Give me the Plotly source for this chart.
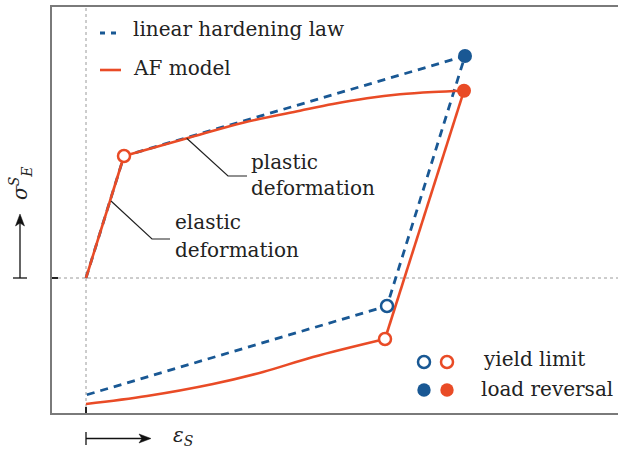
import plotly.graph_objects as go

# ---------------- data (strain, stress in arbitrary units) ----------------
# linear hardening law path: origin -> yield -> load reversal -> reverse yield -> end
lin_x = [0.0, 0.38, 3.79, 3.01, 0.0]
lin_y = [0.0, 1.22, 2.22, -0.28, -1.17]

# AF model: elastic branch
af_el_x = [0.0, 0.38]
af_el_y = [0.0, 1.22]
# AF model: hardening (loading) curve
af_load_x = [0.38, 1.01, 1.57, 2.14, 2.47, 2.81, 3.14, 3.47, 3.78]
af_load_y = [1.22, 1.397, 1.553, 1.673, 1.74, 1.797, 1.837, 1.86, 1.873]
# AF model: elastic unloading
af_unl_x = [3.78, 2.99]
af_unl_y = [1.873, -0.61]
# AF model: reverse plastic curve
af_rev_x = [2.99, 2.27, 1.77, 1.27, 0.61, 0.0]
af_rev_y = [-0.61, -0.79, -0.94, -1.06, -1.18, -1.26]

# special points
yield_lin_x = [3.01]
yield_lin_y = [-0.28]
yield_af_x = [0.38, 2.99]
yield_af_y = [1.22, -0.61]
rev_lin_x = [3.79]
rev_lin_y = [2.22]
rev_af_x = [3.78]
rev_af_y = [1.873]

legend_labels = ["linear hardening law", "AF model"]
marker_labels = ["yield limit", "load reversal"]

BLUE = "#195894"
ORANGE = "#e94b26"
FONT = "DejaVu Serif"

X_RANGE = [-0.34, 5.32]
Y_RANGE = [-1.35, 2.71]
W, H = 618, 451
ML, MT, MB, MR = 52, 7, 38, 0
PW, PH = W - ML - MR, H - MT - MB


def pxx(p):
    return (p - ML) / PW


def pxy(p):
    return (H - MB - p) / PH


def ppath(points):
    return "M " + " L ".join(f"{pxx(a):.5f},{pxy(b):.5f}" for a, b in points) + " Z"


fig = go.Figure()

fig.add_trace(go.Scatter(x=lin_x, y=lin_y, mode="lines",
                         line=dict(color=BLUE, width=2.8, dash="8px,6px"),
                         name=legend_labels[0], showlegend=False))
for xs, ys, shape in [(af_el_x, af_el_y, "linear"),
                      (af_load_x, af_load_y, "spline"),
                      (af_unl_x, af_unl_y, "linear"),
                      (af_rev_x, af_rev_y, "spline")]:
    fig.add_trace(go.Scatter(x=xs, y=ys, mode="lines",
                             line=dict(color=ORANGE, width=2.6, shape=shape),
                             name=legend_labels[1], showlegend=False))

fig.add_trace(go.Scatter(x=yield_lin_x, y=yield_lin_y, mode="markers",
                         marker=dict(size=12, color="white", line=dict(color=BLUE, width=2.5)),
                         showlegend=False))
fig.add_trace(go.Scatter(x=yield_af_x, y=yield_af_y, mode="markers",
                         marker=dict(size=12, color="white", line=dict(color=ORANGE, width=2.5)),
                         showlegend=False))
fig.add_trace(go.Scatter(x=rev_lin_x, y=rev_lin_y, mode="markers",
                         marker=dict(size=14, color=BLUE, line=dict(width=0)),
                         showlegend=False))
fig.add_trace(go.Scatter(x=rev_af_x, y=rev_af_y, mode="markers",
                         marker=dict(size=14, color=ORANGE, line=dict(width=0)),
                         showlegend=False))

shapes = []
# dotted reference lines through origin
shapes.append(dict(type="line", xref="x", yref="paper", x0=0, x1=0, y0=0, y1=1,
                   line=dict(color="#9a9a9a", width=1, dash="dot"), layer="below"))
shapes.append(dict(type="line", xref="paper", yref="y", x0=0, x1=1, y0=0, y1=0,
                   line=dict(color="#9a9a9a", width=1, dash="dot"), layer="below"))
# leader lines
shapes.append(dict(type="path", xref="x", yref="y",
                   path="M 1.007,1.397 L 1.42,1.02 L 1.61,1.02",
                   line=dict(color="#222", width=1.2)))
shapes.append(dict(type="path", xref="x", yref="y",
                   path="M 0.25,0.77 L 0.66,0.39 L 0.84,0.39",
                   line=dict(color="#222", width=1.2)))
# top-left legend samples
shapes.append(dict(type="line", xref="paper", yref="paper",
                   x0=pxx(100), x1=pxx(118), y0=pxy(33), y1=pxy(33),
                   line=dict(color=BLUE, width=2.8, dash="5px,6px")))
shapes.append(dict(type="line", xref="paper", yref="paper",
                   x0=pxx(100), x1=pxx(121), y0=pxy(70), y1=pxy(70),
                   line=dict(color=ORANGE, width=2.6)))
# bottom-right marker legend
for cx, cy, col, filled in [(424, 362, BLUE, False), (447, 362, ORANGE, False),
                            (424, 390, BLUE, True), (447, 390, ORANGE, True)]:
    r = 6.7 if filled else 6
    shapes.append(dict(type="circle", xref="paper", yref="paper",
                       xsizemode="pixel", ysizemode="pixel",
                       xanchor=pxx(cx), yanchor=pxy(cy),
                       x0=-r, x1=r, y0=-r, y1=r,
                       fillcolor=col if filled else "white",
                       line=dict(color=col, width=0 if filled else 2.5)))
# axis direction arrows (bar, shaft, head)
AC = "#111"
shapes.append(dict(type="line", xref="paper", yref="paper",
                   x0=pxx(13), x1=pxx(27), y0=pxy(278), y1=pxy(278),
                   line=dict(color=AC, width=1.3)))
shapes.append(dict(type="line", xref="paper", yref="paper",
                   x0=pxx(20), x1=pxx(20), y0=pxy(278), y1=pxy(222),
                   line=dict(color=AC, width=1.3)))
shapes.append(dict(type="path", xref="paper", yref="paper",
                   path=ppath([(20, 214), (24.5, 226), (20, 223), (15.5, 226)]),
                   fillcolor=AC, line=dict(color=AC, width=0.5)))
shapes.append(dict(type="line", xref="paper", yref="paper",
                   x0=pxx(86), x1=pxx(86), y0=pxy(432), y1=pxy(445),
                   line=dict(color=AC, width=1.3)))
shapes.append(dict(type="line", xref="paper", yref="paper",
                   x0=pxx(86), x1=pxx(143), y0=pxy(438.5), y1=pxy(438.5),
                   line=dict(color=AC, width=1.3)))
shapes.append(dict(type="path", xref="paper", yref="paper",
                   path=ppath([(151, 438.5), (139, 434), (142, 438.5), (139, 443)]),
                   fillcolor=AC, line=dict(color=AC, width=0.5)))

tf = dict(family=FONT, size=20, color="#222")
annotations = []


def txt(x, y, s, xref="x", yref="y", xanchor="left", **kw):
    annotations.append(dict(x=x, y=y, xref=xref, yref=yref, text=s, showarrow=False,
                            xanchor=xanchor, yanchor="middle", font=tf, **kw))


txt(1.63, 1.16, "plastic")
txt(1.63, 0.90, "deformation")
txt(0.87, 0.56, "elastic")
txt(0.87, 0.28, "deformation")
txt(pxx(131), pxy(29), legend_labels[0], "paper", "paper")
txt(pxx(131), pxy(68), legend_labels[1], "paper", "paper")
txt(pxx(481), pxy(359), marker_labels[0], "paper", "paper")
txt(pxx(479), pxy(389), marker_labels[1], "paper", "paper")
# axis labels
txt(pxx(20), pxy(184), "<i>σ</i><sup><i>S</i></sup><sub><i>E</i></sub>", "paper", "paper",
    xanchor="center", textangle=-90)
txt(pxx(171), pxy(436), "<i>ε</i><sub><i>S</i></sub>", "paper", "paper")

axis_common = dict(showgrid=False, zeroline=False, showline=True, linecolor="#7a7a7a",
                   linewidth=1.8, ticks="inside", ticklen=6, tickwidth=1.5,
                   tickcolor="#222", tickvals=[0], showticklabels=False, fixedrange=True)

fig.update_layout(
    width=W, height=H,
    margin=dict(l=ML, r=MR, t=MT, b=MB, pad=0),
    plot_bgcolor="white", paper_bgcolor="white",
    font=dict(family=FONT),
    xaxis=dict(range=X_RANGE, mirror=True, **axis_common),
    yaxis=dict(range=Y_RANGE, mirror=False, **axis_common),
    shapes=shapes, annotations=annotations, showlegend=False,
)

fig.write_html("out.html")
